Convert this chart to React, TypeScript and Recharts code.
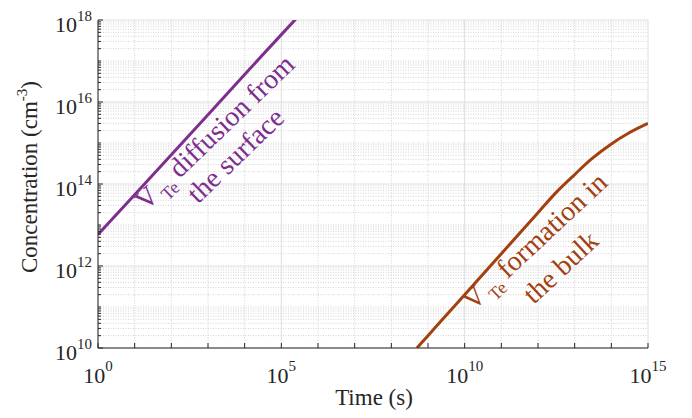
import { LineChart, Line, XAxis, YAxis, CartesianGrid } from "recharts";

// surface diffusion curve (purple)
const surfaceTime = [1, 1e1, 1e2, 1e3, 1e4, 1e5, 3.2e5];
const surfaceConc = [5.9e12, 5.5e13, 5.2e14, 4.9e15, 4.7e16, 4.4e17, 1.35e18];

// bulk formation curve (brown)
const bulkTime = [5e8, 1e9, 1e10, 1e11, 1e12, 3e12, 1e13, 3e13, 1e14, 3e14, 1e15];
const bulkConc = [1.0e10, 2.0e10, 2.0e11, 2.0e12, 2.0e13, 6.0e13, 1.7e14, 4.2e14, 9.5e14, 1.75e15, 3.0e15];

const xDomain = [1, 1e15];
const yDomain = [1e10, 1e18];
const xLabelled = [1, 1e5, 1e10, 1e15];
const xDecades = [1, 1e1, 1e2, 1e3, 1e4, 1e5, 1e6, 1e7, 1e8, 1e9, 1e10, 1e11, 1e12, 1e13, 1e14, 1e15];
const yLabelled = [1e10, 1e12, 1e14, 1e16, 1e18];
const yDecades = [1e10, 1e11, 1e12, 1e13, 1e14, 1e15, 1e16, 1e17, 1e18];
const minorSteps = [2, 3, 4, 5, 6, 7, 8, 9];

const yInDecade = yDecades.slice(0, -1).flatMap((d) => minorSteps.map((m) => m * d));
const yMinor = [...yDecades.filter((d) => !yLabelled.includes(d)), ...yInDecade];
const yAllTicks = [...yDecades, ...yInDecade];
const xMinor = xDecades.filter((d) => !xLabelled.includes(d));

const surfaceData = surfaceTime.map((t, i) => ({ t, c: surfaceConc[i] }));
const bulkData = bulkTime.map((t, i) => ({ t, c: bulkConc[i] }));

const FONT = "'Liberation Serif', 'Times New Roman', serif";
const AXIS = "#262626";
const PURPLE = "#7E2F8E";
const BROWN = "#A3400F";

const exp = (v: number) => Math.round(Math.log10(v));
const near = (list: number[], v: number) => list.some((d) => Math.abs(d - v) / d < 1e-6);

const BottomTick = ({ x, y, payload }: any) => {
  const v = payload.value;
  return (
    <g>
      <line x1={x} x2={x} y1={y} y2={y - 5} stroke={AXIS} />
      {near(xLabelled, v) && (
        <text x={x} y={y + 35} textAnchor="middle" fontFamily={FONT} fontSize={22} fill={AXIS}>
          10
          <tspan dy={-12} fontSize={15}>{exp(v)}</tspan>
        </text>
      )}
    </g>
  );
};

const TopTick = ({ x, y }: any) => <line x1={x} x2={x} y1={y} y2={y + 5} stroke={AXIS} />;

const LeftTick = ({ x, y, payload }: any) => {
  const v = payload.value;
  const major = near(yLabelled, v);
  return (
    <g>
      <line x1={x} x2={x + (major ? 5 : 3)} y1={y} y2={y} stroke={AXIS} />
      {major && (
        <text x={x - 6} y={y + 12} textAnchor="end" fontFamily={FONT} fontSize={22} fill={AXIS}>
          10
          <tspan dy={-11} fontSize={15}>{exp(v)}</tspan>
        </text>
      )}
    </g>
  );
};

const RightTick = ({ x, y, payload }: any) => (
  <line x1={x} x2={x - (near(yLabelled, payload.value) ? 5 : 3)} y1={y} y2={y} stroke={AXIS} />
);

export default function App() {
  return (
    <div style={{ position: "absolute", left: 0, top: 0, background: "#fff" }}>
      <LineChart width={692} height={418} margin={{ top: 20, right: 44, bottom: 0, left: 0 }}>
        <CartesianGrid
          horizontalValues={yMinor}
          verticalValues={xMinor}
          stroke="#d4d4d4"
          strokeDasharray="1 1.5"
        />
        <CartesianGrid horizontalValues={yLabelled} verticalValues={xLabelled} stroke="#dedede" />
        <XAxis
          dataKey="t"
          type="number"
          scale="log"
          domain={xDomain}
          allowDataOverflow
          ticks={xDecades}
          interval={0}
          height={70}
          tickSize={0}
          tickMargin={0}
          tick={<BottomTick />}
          axisLine={{ stroke: AXIS }}
        />
        <XAxis
          xAxisId="top"
          orientation="top"
          dataKey="t"
          type="number"
          scale="log"
          domain={xDomain}
          allowDataOverflow
          ticks={xDecades}
          interval={0}
          height={0}
          tickSize={0}
          tickMargin={0}
          tick={<TopTick />}
          axisLine={{ stroke: "#4a4a4a" }}
        />
        <YAxis
          dataKey="c"
          type="number"
          scale="log"
          domain={yDomain}
          allowDataOverflow
          ticks={yAllTicks}
          interval={0}
          width={98}
          tickSize={0}
          tickMargin={0}
          tick={<LeftTick />}
          axisLine={{ stroke: AXIS }}
        />
        <YAxis
          yAxisId="right"
          orientation="right"
          dataKey="c"
          type="number"
          scale="log"
          domain={yDomain}
          allowDataOverflow
          ticks={yAllTicks}
          interval={0}
          width={0}
          tickSize={0}
          tickMargin={0}
          tick={<RightTick />}
          axisLine={{ stroke: "#4a4a4a" }}
        />
        <Line
          data={surfaceData}
          dataKey="c"
          type="linear"
          stroke={PURPLE}
          strokeWidth={3}
          dot={false}
          isAnimationActive={false}
        />
        <Line
          data={bulkData}
          dataKey="c"
          type="monotone"
          stroke={BROWN}
          strokeWidth={3}
          dot={false}
          isAnimationActive={false}
        />

        <text x={374} y={405} textAnchor="middle" fontFamily={FONT} fontSize={23} fill={AXIS}>
          Time (s)
        </text>
        <text
          transform="translate(37,177) rotate(-90)"
          textAnchor="middle"
          fontFamily={FONT}
          fontSize={23}
          fill={AXIS}
        >
          Concentration (cm
          <tspan dy={-10} fontSize={15}>-3</tspan>
          <tspan dy={10}>)</tspan>
        </text>

        <g fontFamily={FONT} fontSize={28}>
          <text transform="translate(221,139) rotate(-44)" textAnchor="middle" fill={PURPLE}>
            V<tspan dx={3} dy={8} fontSize={18}>Te</tspan>
            <tspan dx={6} dy={-8}>diffusion from</tspan>
          </text>
          <text transform="translate(242,162) rotate(-44)" textAnchor="middle" fill={PURPLE}>
            the surface
          </text>
          <text transform="translate(541,248) rotate(-43)" textAnchor="middle" fill={BROWN}>
            V<tspan dx={3} dy={8} fontSize={18}>Te</tspan>
            <tspan dx={6} dy={-8}>formation in</tspan>
          </text>
          <text transform="translate(567,274) rotate(-43)" textAnchor="middle" fill={BROWN}>
            the bulk
          </text>
        </g>
      </LineChart>
    </div>
  );
}
